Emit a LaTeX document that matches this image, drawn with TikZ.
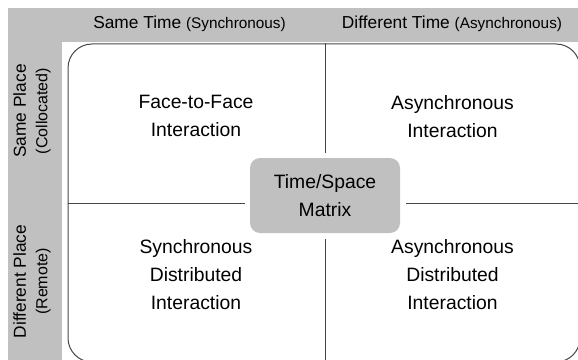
\documentclass[tikz,border=0pt]{standalone}
\usepackage{fontspec}
\setmainfont{Liberation Sans}
\definecolor{bandgray}{RGB}{192,192,192}
\definecolor{linegray}{RGB}{70,70,70}
\tikzset{every picture/.style={line width=0.75pt}}

\begin{document}
\begin{tikzpicture}[x=0.75pt,y=0.75pt,yscale=-1,xscale=1,
  cell/.style={align=center,inner sep=0.75pt,font=\fontsize{14.5}{21}\selectfont},
  head/.style={inner sep=0.75pt,font=\fontsize{13}{15}\selectfont},
  side/.style={inner sep=0.75pt,rotate=90,align=center,font=\fontsize{13}{15}\selectfont}]
	\useasboundingbox (0,0) rectangle (578,360);
	
	%Shape: Bands
	\fill [bandgray] (8,8) rectangle (578,42);
	\fill [bandgray] (8,8) rectangle (62,360);
	
	%Shape: Rounded Rect
	\node [draw=linegray, rounded corners=18pt, inner sep=0pt, minimum width=384pt, minimum height=238.5pt] (grid) at (324,203) {};
	%Shape: Center box
	\node [cell, fill=bandgray, rounded corners=7.5pt, minimum width=112.5pt, minimum height=56.25pt] (mtx) at (325,195.5) {Time/Space\\Matrix};
	
	%Straight Lines
	\draw [linegray, shorten >=3.75pt] (grid.north -| mtx.north) -- (mtx.north);
	\draw [linegray, shorten >=3.75pt] (grid.south -| mtx.south) -- (mtx.south);
	\draw [linegray, shorten >=3.75pt] (grid.west) -- (grid.west -| mtx.west);
	\draw [linegray, shorten >=3.75pt] (grid.east) -- (grid.east -| mtx.east);
	
	% Text Node
	\node [head] (sametime) at (189.5,24) {Same Time {\fontsize{11.5}{13}\selectfont(Synchronous)}};
	% Text Node
	\node [head] (difftime) at (452,24) {Different Time {\fontsize{11.5}{13}\selectfont(Asynchronous)}};
	% Text Node
	\node [side] (sameplace) at (32,111) {Same Place\\[1pt]{\fontsize{12}{14}\selectfont(Collocated)}};
	% Text Node
	\node [side] (diffplace) at (32,281.5) {Different Place\\[1pt]{\fontsize{12}{14}\selectfont(Remote)}};
	
	% Text Node
	\node [cell] (f2f) at (196,116) {Face-to-Face\\Interaction};
	% Text Node
	\node [cell] (async) at (452.5,116.5) {Asynchronous\\Interaction};
	% Text Node
	\node [cell] (syncdist) at (196,275) {Synchronous\\Distributed\\Interaction};
	% Text Node
	\node [cell] (asyncdist) at (452.5,275) {Asynchronous\\Distributed\\Interaction};
	
\end{tikzpicture}
\end{document}
